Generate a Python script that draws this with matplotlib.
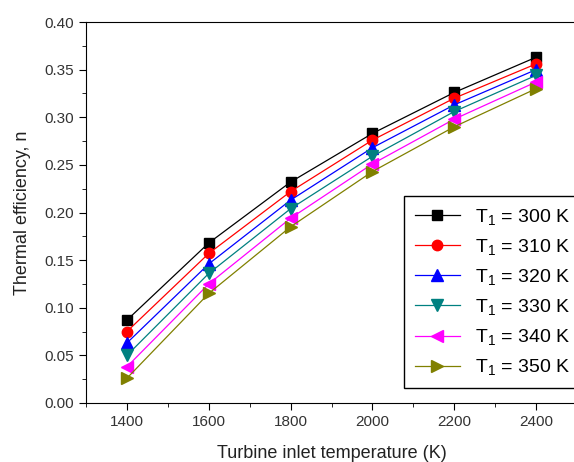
import numpy as np
import matplotlib
matplotlib.use('Agg')
import matplotlib.pyplot as plt

plt.rcParams['font.family'] = ['Liberation Sans', 'DejaVu Sans']
plt.rcParams['mathtext.fontset'] = 'custom'
plt.rcParams['mathtext.rm'] = 'Liberation Sans'
plt.rcParams['mathtext.it'] = 'Liberation Sans'

# turbine inlet temperature (K)
tit = [1400, 1600, 1800, 2000, 2200, 2400]

# thermal efficiency per compressor inlet temperature T1
eff300 = [0.087, 0.168, 0.232, 0.283, 0.326, 0.363]
eff310 = [0.075, 0.157, 0.222, 0.276, 0.320, 0.356]
eff320 = [0.063, 0.146, 0.213, 0.268, 0.313, 0.350]
eff330 = [0.050, 0.136, 0.204, 0.259, 0.306, 0.344]
eff340 = [0.038, 0.125, 0.194, 0.251, 0.298, 0.337]
eff350 = [0.026, 0.115, 0.185, 0.243, 0.290, 0.330]

labels = ['300', '310', '320', '330', '340', '350']
series = [eff300, eff310, eff320, eff330, eff340, eff350]
colors = ['black', 'red', 'blue', '#008080', 'magenta', '#808000']
markers = ['s', 'o', '^', 'v', '<', '>']
sizes = [7, 7.5, 8.5, 8.5, 8.5, 8.5]

fig = plt.figure(figsize=(5.74, 4.62), dpi=100)
ax = fig.add_axes([86/574, 59/462, 491/574, 381/462])

for lab, y, c, m, s in zip(labels, series, colors, markers, sizes):
    ax.plot(tit, y, color=c, marker=m, markersize=s, linewidth=0.9,
            label=r'T$_{\mathregular{1}}$ = ' + lab + ' K')

ax.set_xlim(1300, 2500)
ax.set_ylim(0, 0.40)
ax.set_xticks([1400, 1600, 1800, 2000, 2200, 2400])
ax.set_xticks(np.arange(1300, 2501, 100), minor=True)
ax.set_yticks(np.arange(0, 0.401, 0.05))
ax.set_yticks(np.arange(0.025, 0.40, 0.05), minor=True)
ax.set_yticklabels(['%.2f' % v for v in np.arange(0, 0.401, 0.05)])
ax.tick_params(which='both', direction='out', top=False, right=False,
               labelsize=11, labelcolor='#333333')
ax.tick_params(which='major', length=5)
ax.tick_params(which='minor', length=3)
ax.spines['right'].set_visible(False)

ax.set_xlabel('Turbine inlet temperature (K)', fontsize=13, color='#222222', labelpad=12)
ax.set_ylabel('Thermal efficiency, n', fontsize=13, color='#222222', labelpad=10)

leg = ax.legend(loc='lower left', bbox_to_anchor=(0.648, 0.039), fontsize=14,
                frameon=True, fancybox=False, edgecolor='black', framealpha=1,
                handlelength=2.3, labelspacing=0.52, borderpad=0.55,
                borderaxespad=0)
leg.get_frame().set_linewidth(1.0)

fig.savefig('out.png', dpi=100)
